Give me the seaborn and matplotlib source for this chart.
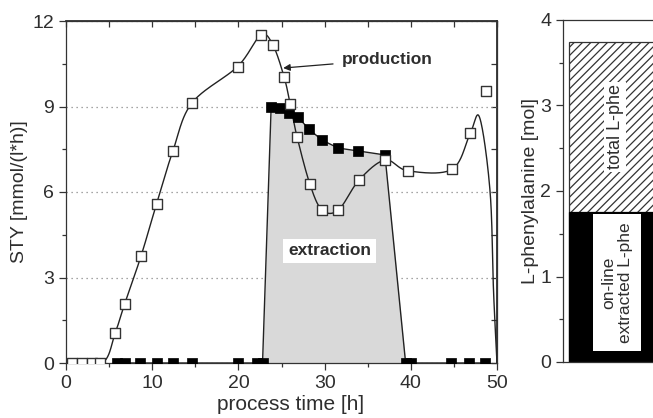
import numpy as np
import pandas as pd
import matplotlib
matplotlib.use('Agg')
import matplotlib.pyplot as plt
import seaborn as sns
from matplotlib.ticker import MultipleLocator

# production STY (open squares)
prod_x = [0.7, 1.9, 3.0, 3.9, 5.7, 6.8, 8.7, 10.5, 12.4, 14.6, 19.9, 22.6, 24.0, 25.3,
          26.0, 26.8, 28.3, 29.7, 31.6, 34.0, 37.0, 39.7, 44.8, 46.9, 48.7]
prod_y = [0, 0, 0, 0, 1.05, 2.07, 3.75, 5.58, 7.44, 9.12, 10.4, 11.5, 11.16, 10.04,
          9.1, 7.94, 6.27, 5.37, 5.37, 6.42, 7.12, 6.74, 6.8, 8.07, 9.54]

# extra knots of the smooth production curve
curve_head_x = [0.0, 4.2]
curve_head_y = [0.0, 0.0]
curve_tail_x = [48.0, 49.2, 49.6, 50.0]
curve_tail_y = [8.6, 6.0, 2.5, 0.0]

# extraction STY (filled squares)
ext_x = [5.9, 6.8, 8.6, 10.5, 12.4, 14.6, 19.9, 22.2, 22.8, 23.8, 24.8, 25.9, 26.9,
         28.2, 29.7, 31.6, 33.9, 37.0, 39.4, 40.0, 44.7, 46.8, 48.6]
ext_y = [0, 0, 0, 0, 0, 0, 0, 0, 0, 9.0, 8.93, 8.77, 8.63,
         8.2, 7.82, 7.54, 7.44, 7.3, 0, 0, 0, 0, 0]

# L-phenylalanine balance
lphe_total = 3.74
lphe_online = 1.76


def catmull_rom(xs, ys, n=25):
    pts = np.column_stack([xs, ys]).astype(float)
    p = np.vstack([pts[0], pts, pts[-1]])
    t = np.linspace(0, 1, n, endpoint=False)[:, None]
    segs = []
    for i in range(1, len(p) - 2):
        p0, p1, p2, p3 = p[i - 1], p[i], p[i + 1], p[i + 2]
        segs.append(0.5 * (2 * p1 + (-p0 + p2) * t
                           + (2 * p0 - 5 * p1 + 4 * p2 - p3) * t ** 2
                           + (-p0 + 3 * p1 - 3 * p2 + p3) * t ** 3))
    segs.append(pts[-1:])
    return np.vstack(segs)


sns.set_theme(style='ticks')
plt.rcParams['font.family'] = ['Liberation Sans', 'DejaVu Sans']
plt.rcParams['hatch.linewidth'] = 0.9
plt.rcParams['hatch.color'] = '#333333'
txt = '#2e2e2e'

fig = plt.figure(figsize=(6.53, 4.18), dpi=100)
ax = fig.add_axes([66 / 653, 55 / 418, 431 / 653, 342 / 418])
ax2 = fig.add_axes([563 / 653, 56 / 418, 120 / 653, 342 / 418])

# smooth production curve
on_curve = [(x, y) for x, y in zip(prod_x, prod_y) if x > 4 and x < 48]
cx = curve_head_x + [p[0] for p in on_curve] + curve_tail_x
cy = curve_head_y + [p[1] for p in on_curve] + curve_tail_y
sm = catmull_rom(cx, cy)
curve = pd.DataFrame({'t': sm[:, 0], 'sty': sm[:, 1]})

ax.fill_between(ext_x, ext_y, 0, color='#d9d9d9', lw=0, zorder=1)
sns.lineplot(data=curve, x='t', y='sty', sort=False, estimator=None,
             color='#222222', lw=1, ax=ax, zorder=2)
sns.lineplot(x=ext_x, y=ext_y, sort=False, estimator=None,
             color='#222222', lw=1, ax=ax, zorder=2)
sns.scatterplot(x=ext_x, y=ext_y, marker='s', s=62, color='black',
                edgecolor='black', linewidth=0.5, ax=ax, zorder=4)
sns.scatterplot(x=prod_x, y=prod_y, marker='s', s=62, color='white',
                edgecolor='#333333', linewidth=1, ax=ax, zorder=5)

ax.set_xlim(0, 50)
ax.set_ylim(0, 12)
ax.set_xticks(range(0, 51, 10))
ax.set_yticks(range(0, 13, 3))
ax.xaxis.set_minor_locator(MultipleLocator(5))
ax.yaxis.set_minor_locator(MultipleLocator(1.5))
ax.tick_params(which='both', direction='out', color='#333333', labelcolor=txt,
               labelsize=14, width=0.9, top=False, right=False)
ax.tick_params(which='major', length=5)
ax.tick_params(which='minor', length=3)
ax.grid(axis='y', which='major', linestyle=(0, (1, 3)), color='#888888', lw=0.9)
for s in ax.spines.values():
    s.set_color('#333333')
    s.set_linewidth(0.9)

sec_top = ax.secondary_xaxis('top')
sec_top.set_xticks(range(0, 51, 5))
sec_top.set_xticklabels([])
sec_top.tick_params(direction='in', length=4, color='#333333', width=0.9)
sec_right = ax.secondary_yaxis('right')
sec_right.set_yticks(np.arange(0, 12.1, 1.5))
sec_right.set_yticklabels([])
sec_right.tick_params(direction='in', length=4, color='#333333', width=0.9)

ax.set_xlabel('process time [h]', fontsize=15, color=txt, labelpad=5)
ax.xaxis.set_label_coords(0.52, -0.095)
ax.set_ylabel('STY [mmol/(l*h)]', fontsize=14, color=txt, labelpad=3)

ax.annotate('production', xy=(25.2, 10.35), xytext=(32.0, 10.65),
            fontsize=12.5, fontweight='bold', color=txt, va='center', ha='left',
            arrowprops=dict(arrowstyle='-|>', color='#222222', lw=0.9,
                            mutation_scale=10, shrinkA=4, shrinkB=0))
ax.text(30.6, 3.93, 'extraction', fontsize=12.5, fontweight='bold', color=txt,
        ha='center', va='center',
        bbox=dict(facecolor='white', edgecolor='none', pad=3.5))

# right panel: stacked bar
sns.barplot(x=['L-phe'], y=[lphe_total], color='white', edgecolor='#333333',
            hatch='////', linewidth=0.9, width=0.8, saturation=1, ax=ax2)
sns.barplot(x=['L-phe'], y=[lphe_online], color='black', edgecolor='black',
            linewidth=0.9, width=0.8, saturation=1, ax=ax2)
ax2.set_xlim(-0.452, 0.591)
ax2.set_ylim(0, 4)
ax2.set_xticks([])
ax2.set_xlabel('')
ax2.set_yticks(range(0, 5))
ax2.yaxis.set_minor_locator(MultipleLocator(0.5))
ax2.tick_params(which='both', direction='out', color='#333333', labelcolor=txt,
                labelsize=14, width=0.9, left=True)
ax2.tick_params(which='major', length=5)
ax2.tick_params(which='minor', length=3)
for s in ax2.spines.values():
    s.set_color('#333333')
    s.set_linewidth(0.9)
ax2.set_ylabel('L-phenylalanine [mol]', fontsize=14, color=txt, labelpad=1)

ax2.text(0, 2.75, 'total L-phe', rotation=90, fontsize=13, color=txt,
         ha='center', va='center',
         bbox=dict(facecolor='white', edgecolor='none', pad=1.5))
ax2.text(0.02, 0.93, 'on-line\nextracted L-phe', rotation=90, fontsize=12.5,
         color=txt, ha='center', va='center', multialignment='center',
         linespacing=1.1,
         bbox=dict(facecolor='white', edgecolor='none', pad=6))

fig.savefig('out.png', dpi=100)
